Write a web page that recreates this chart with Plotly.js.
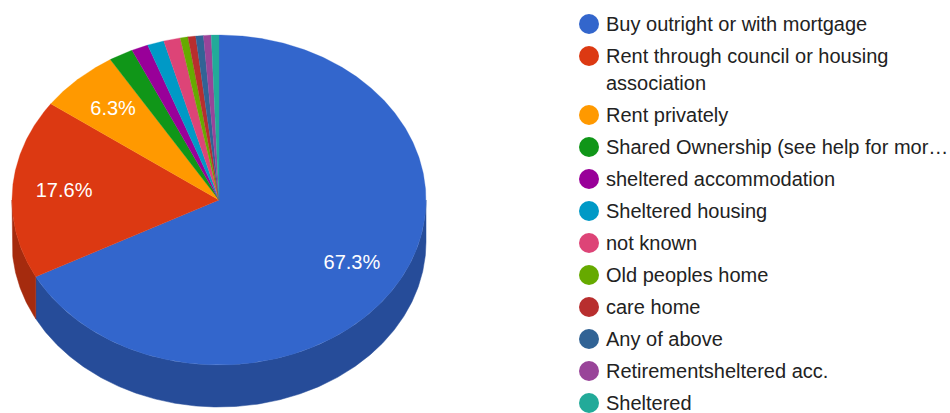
<!DOCTYPE html>
<html><head><meta charset="utf-8">
<script src="https://cdn.plot.ly/plotly-3.0.0.min.js"></script>
<style>html,body{margin:0;padding:0;background:#fff}#c{width:950px;height:413px}</style>
</head><body><div id="c"></div>
<script>
const categories = [
  ["Buy outright or with mortgage"],
  ["Rent through council or housing","association"],
  ["Rent privately"],
  ["Shared Ownership (see help for mor…"],
  ["sheltered accommodation"],
  ["Sheltered housing"],
  ["not known"],
  ["Old peoples home"],
  ["care home"],
  ["Any of above"],
  ["Retirementsheltered acc."],
  ["Sheltered"]
];
const shares = [67.3,17.6,6.3,1.9,1.3,1.3,1.3,0.6,0.6,0.6,0.6,0.6];
const colors = ["#3366cc","#dc3912","#ff9900","#109618","#990099","#0099c6","#dd4477","#66aa00","#b82e2e","#316395","#994499","#22aa99"];
const sideColors = {0:"#264c99",1:"#a52b0e"};
const labelledSlices = [0,1,2];

const W=950,H=413,CX=219,CY=200,RX=207,RY=165,DEPTH=42;
const FONT="Liberation Sans, Arial, sans-serif", FS=20;
const rad=d=>d*Math.PI/180;
const px=t=>Math.sin(rad(t)), py=t=>Math.cos(rad(t));
function arc(a,b){const n=Math.max(2,Math.ceil((b-a)*2));const r=[];for(let i=0;i<=n;i++)r.push(a+(b-a)*i/n);return r;}
const total=shares.reduce((s,v)=>s+v,0);
const traces=[];
let cum=0;
const slices=shares.map(v=>{const a=cum/total*360;cum+=v;return [a,cum/total*360];});
const d=DEPTH/RY;
slices.forEach(([a,b],i)=>{
  const s=Math.max(a,90),e=Math.min(b,270);
  if(e<=s)return;
  const A=arc(s,e);
  const x=A.map(px).concat(A.slice().reverse().map(px));
  const y=A.map(py).concat(A.slice().reverse().map(t=>py(t)-d));
  x.push(x[0]);y.push(y[0]);
  traces.push({type:"scatter",mode:"lines",x,y,fill:"toself",fillcolor:sideColors[i],line:{width:0.5,color:sideColors[i]},hoverinfo:"skip",showlegend:false});
});
slices.forEach(([a,b],i)=>{
  const A=arc(a,b);
  const x=[0].concat(A.map(px),[0]);
  const y=[0].concat(A.map(py),[0]);
  traces.push({type:"scatter",mode:"lines",x,y,fill:"toself",fillcolor:colors[i],line:{width:0.3,color:colors[i]},hoverinfo:"skip",showlegend:false});
});
const lr=0.75, LY=0.5/RY;
traces.push({type:"scatter",mode:"text",
  x:labelledSlices.map(i=>lr*px((slices[i][0]+slices[i][1])/2)),
  y:labelledSlices.map(i=>lr*py((slices[i][0]+slices[i][1])/2)-LY),
  text:labelledSlices.map(i=>shares[i].toFixed(1)+"%"),
  textposition:"middle center",textfont:{family:FONT,size:FS,color:"#ffffff"},
  hoverinfo:"skip",showlegend:false});
const ROW0=24,PITCH=32,LINE=27;
let yy=ROW0;const mY=[],tY=[],tT=[];
categories.forEach(lines=>{
  mY.push(yy);
  lines.forEach((l,k)=>{tY.push(yy+k*LINE+1.5);tT.push(l);});
  yy+=PITCH+(lines.length-1)*LINE;
});
traces.push({type:"scatter",mode:"markers",xaxis:"x2",yaxis:"y2",x:mY.map(()=>589),y:mY,
  marker:{size:20,color:colors,line:{width:0}},hoverinfo:"skip",showlegend:false});
traces.push({type:"scatter",mode:"text",xaxis:"x2",yaxis:"y2",x:tY.map(()=>606),y:tY,text:tT,
  textposition:"middle right",textfont:{family:FONT,size:FS,color:"#222222"},hoverinfo:"skip",showlegend:false,cliponaxis:false});
const hide={visible:false,showgrid:false,zeroline:false,fixedrange:true};
const layout={width:W,height:H,margin:{l:0,r:0,t:0,b:0},paper_bgcolor:"#fff",plot_bgcolor:"#fff",showlegend:false,
  xaxis:Object.assign({},hide,{domain:[0,0.5],range:[-CX/RX,(W/2-CX)/RX]}),
  yaxis:Object.assign({},hide,{domain:[0,1],range:[(CY-H)/RY,CY/RY]}),
  xaxis2:Object.assign({},hide,{domain:[0.5,1],range:[W/2,W],anchor:"y2"}),
  yaxis2:Object.assign({},hide,{domain:[0,1],range:[H,0],anchor:"x2"})};
Plotly.newPlot("c",traces,layout,{displayModeBar:false,staticPlot:true});
</script></body></html>
